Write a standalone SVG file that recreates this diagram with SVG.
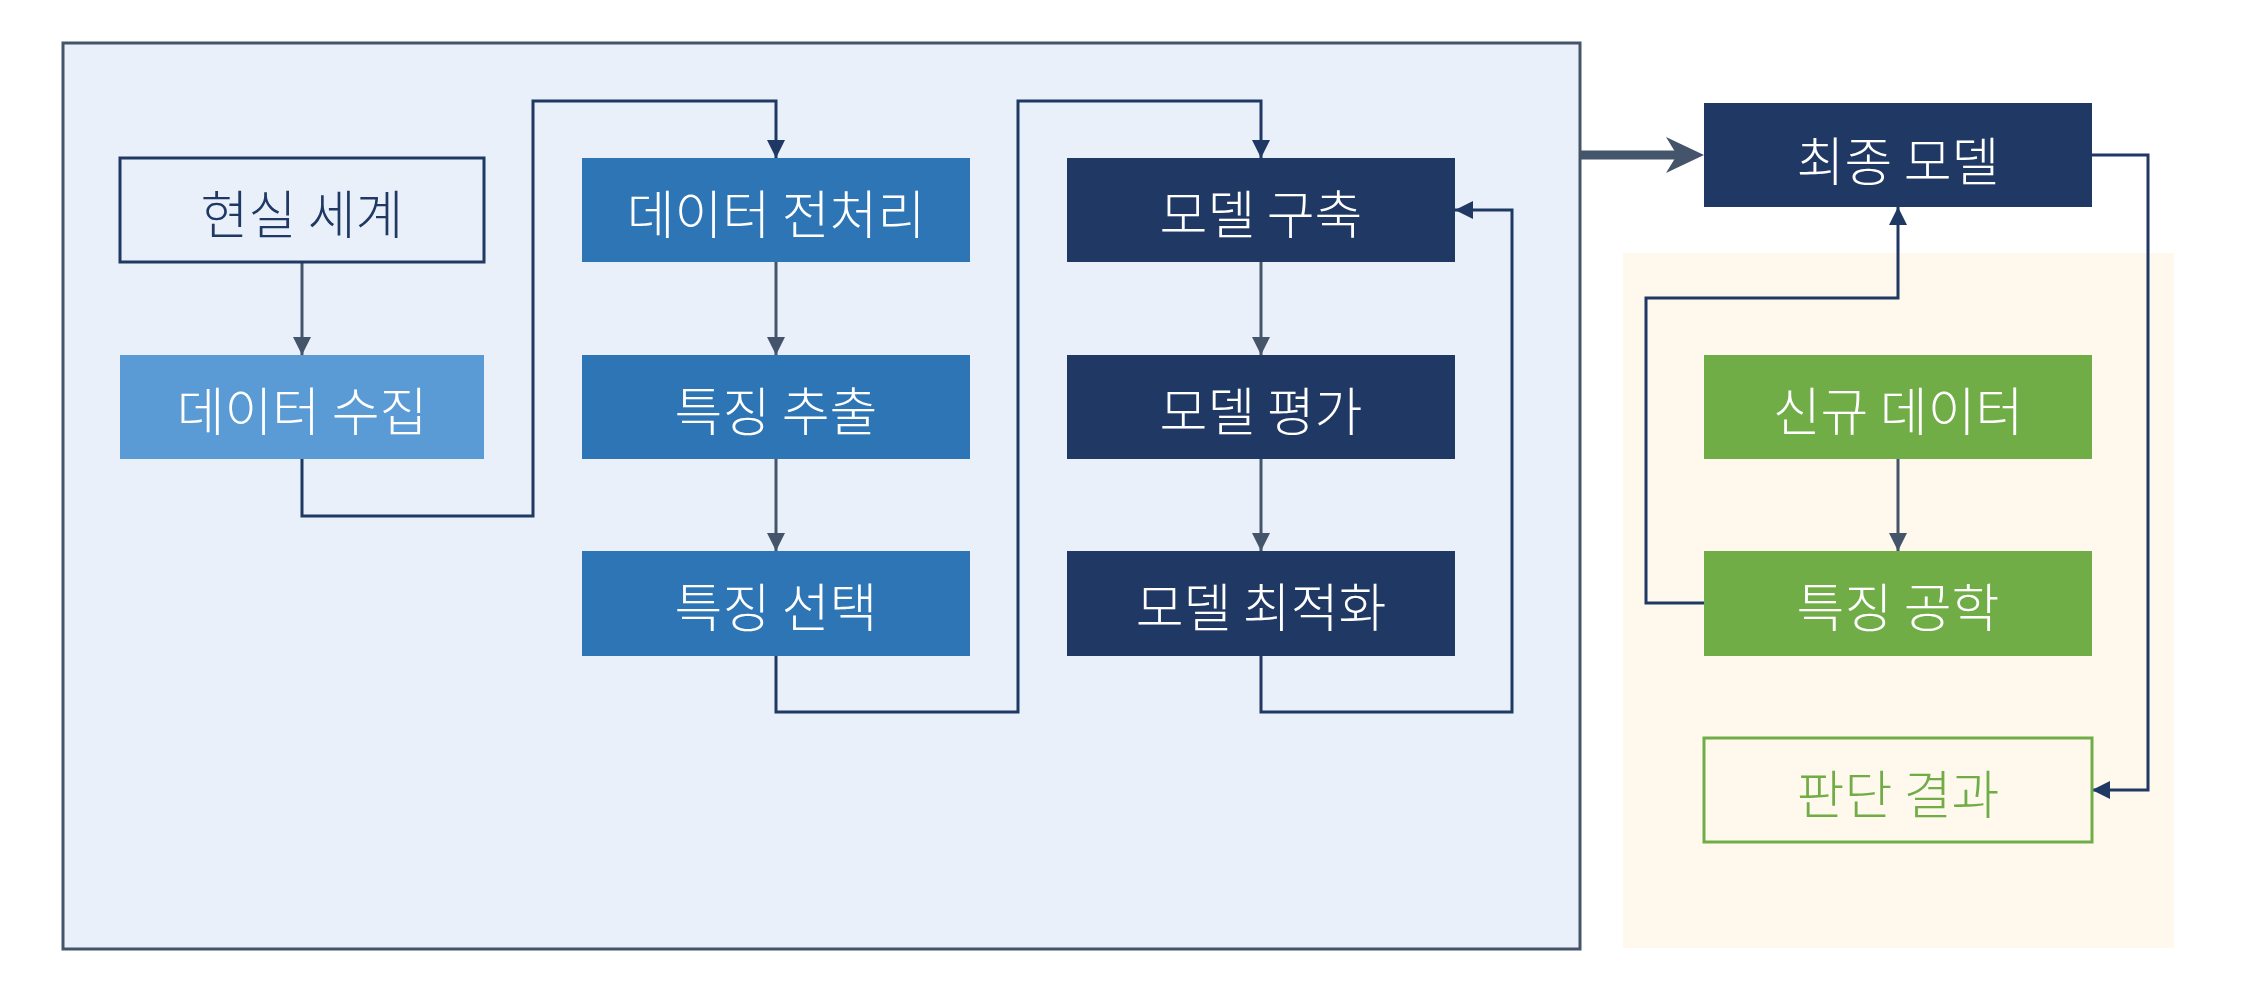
<svg xmlns="http://www.w3.org/2000/svg" width="2246" height="1000" viewBox="0 0 2246 1000">
<defs>
<style>
.t{font-family:"Noto Sans CJK KR","Noto Sans",sans-serif;font-size:52px;font-weight:300;text-anchor:middle;dominant-baseline:central}
.w{fill:#ffffff}
.c{fill:none;stroke-width:3}
.nv{stroke:#1f3864}
.gr{stroke:#44546a}
.lb{fill:#5b9bd5}
.mb{fill:#2e75b6}
.db{fill:#203864}
.gn{fill:#70ad47}
</style>
<marker id="ag" markerWidth="18" markerHeight="18" viewBox="0 0 18 18" refX="18" refY="9" orient="auto" markerUnits="userSpaceOnUse"><path d="M0,0 L18,9 L0,18 z" fill="#44546a"/></marker>
<marker id="an" markerWidth="18" markerHeight="18" viewBox="0 0 18 18" refX="18" refY="9" orient="auto" markerUnits="userSpaceOnUse"><path d="M0,0 L18,9 L0,18 z" fill="#1f3864"/></marker>
</defs>
<rect width="2246" height="1000" fill="#ffffff"/>
<rect id="group-left" x="63" y="43" width="1517" height="906" fill="#e9f0fa" stroke="#44546a" stroke-width="3"/>
<rect id="group-right" x="1623" y="253" width="551" height="695" fill="#fef8ed"/>
<g id="connectors">
<path class="c gr" d="M302,262 V355" marker-end="url(#ag)"/>
<path class="c nv" d="M302,459 V516 H533 V101 H776 V158" marker-end="url(#an)"/>
<path class="c gr" d="M776,262 V355" marker-end="url(#ag)"/>
<path class="c gr" d="M776,459 V551" marker-end="url(#ag)"/>
<path class="c nv" d="M776,656 V712 H1018 V101 H1261 V158" marker-end="url(#an)"/>
<path class="c gr" d="M1261,262 V355" marker-end="url(#ag)"/>
<path class="c gr" d="M1261,459 V551" marker-end="url(#ag)"/>
<path class="c nv" d="M1261,656 V712 H1512 V210 H1455" marker-end="url(#an)"/>
<path d="M1580,155 H1680" fill="none" stroke="#44546a" stroke-width="9"/>
<path d="M1704,155 L1666,137 L1677,155 L1666,173 z" fill="#44546a"/>
<path class="c nv" d="M2092,155 H2148 V790 H2092" marker-end="url(#an)"/>
<path class="c gr" d="M1898,459 V551" marker-end="url(#ag)"/>
<path class="c nv" d="M1704,603 H1646 V298 H1898 V207" marker-end="url(#an)"/>
</g>
<g id="n1"><rect x="120" y="158" width="364" height="104" fill="none" stroke="#1f3864" stroke-width="3"/><text class="t" x="302" y="211" fill="#1f3864">현실 세계</text></g>
<g id="n2"><rect class="lb" x="120" y="355" width="364" height="104"/><text class="t w" x="302" y="408">데이터 수집</text></g>
<g id="n3"><rect class="mb" x="582" y="158" width="388" height="104"/><text class="t w" x="776" y="211">데이터 전처리</text></g>
<g id="n4"><rect class="mb" x="582" y="355" width="388" height="104"/><text class="t w" x="776" y="408">특징 추출</text></g>
<g id="n5"><rect class="mb" x="582" y="551" width="388" height="105"/><text class="t w" x="776" y="604">특징 선택</text></g>
<g id="n6"><rect class="db" x="1067" y="158" width="388" height="104"/><text class="t w" x="1261" y="211">모델 구축</text></g>
<g id="n7"><rect class="db" x="1067" y="355" width="388" height="104"/><text class="t w" x="1261" y="408">모델 평가</text></g>
<g id="n8"><rect class="db" x="1067" y="551" width="388" height="105"/><text class="t w" x="1261" y="604">모델 최적화</text></g>
<g id="n9"><rect class="db" x="1704" y="103" width="388" height="104"/><text class="t w" x="1898" y="158">최종 모델</text></g>
<g id="n10"><rect class="gn" x="1704" y="355" width="388" height="104"/><text class="t w" x="1898" y="408">신규 데이터</text></g>
<g id="n11"><rect class="gn" x="1704" y="551" width="388" height="105"/><text class="t w" x="1898" y="604">특징 공학</text></g>
<g id="n12"><rect x="1704" y="738" width="388" height="104" fill="#fef8ed" stroke="#70ad47" stroke-width="3"/><text class="t" x="1898" y="791" fill="#70ad47">판단 결과</text></g>
</svg>
